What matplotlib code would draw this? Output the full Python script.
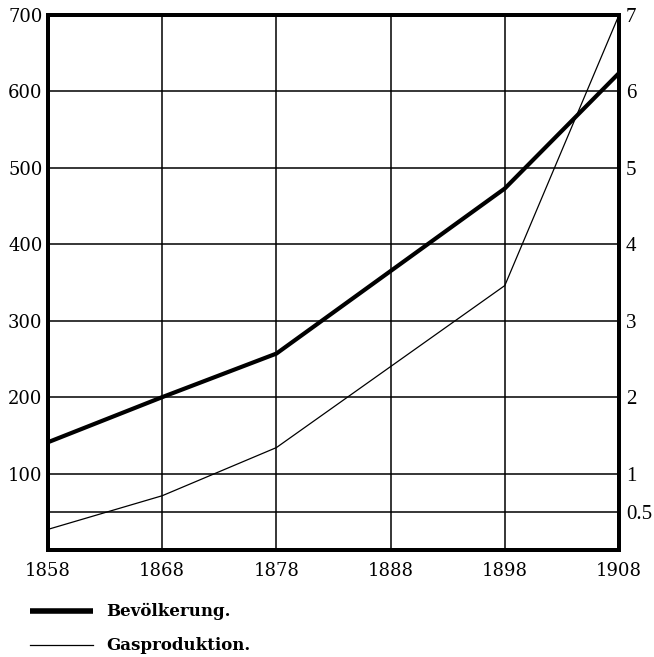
import matplotlib
matplotlib.use("Agg")
import matplotlib.pyplot as plt
from matplotlib.lines import Line2D

years = [1858, 1868, 1878, 1888, 1898, 1908]
bevoelkerung = [141, 200, 257, 365, 473, 624]
gasproduktion = [0.27, 0.71, 1.34, 2.40, 3.46, 7.0]
left_ticks = [100, 200, 300, 400, 500, 600, 700]
right_ticks = [0.5, 1, 2, 3, 4, 5, 6, 7]
right_labels = ["0.5", "1", "2", "3", "4", "5", "6", "7"]
labels = ["Bevölkerung.", "Gasproduktion."]

fig = plt.figure(figsize=(6.54, 6.57), dpi=100)
ax = fig.add_axes([48/654, 1-550/657, (619-48)/654, (550-15)/657])
ax.set_xlim(1858, 1908)
ax.set_ylim(0, 700)

# grid
for v in [50, 100, 200, 300, 400, 500, 600]:
    ax.axhline(v, color="black", lw=1.1, zorder=1)
for yv in years[1:-1]:
    ax.axvline(yv, color="black", lw=1.1, zorder=1)

l1, = ax.plot(years, bevoelkerung, color="black", lw=3.0, zorder=3, solid_capstyle="butt")
ax2 = ax.twinx()
ax2.set_ylim(0, 7)
l2, = ax2.plot(years, gasproduktion, color="black", lw=0.9, zorder=3)

ax.set_xticks(years)
ax.set_xticklabels([str(y) for y in years], fontsize=13, family="DejaVu Serif")
ax.set_yticks(left_ticks)
ax.set_yticklabels([str(v) for v in left_ticks], fontsize=13, family="DejaVu Serif")
ax.tick_params(axis="x", length=0, pad=9)
ax.tick_params(axis="y", length=0, pad=4)
ax2.set_yticks(right_ticks)
ax2.set_yticklabels(right_labels, fontsize=15, family="Liberation Serif")
ax2.tick_params(axis="y", length=0, pad=5)

for a in (ax, ax2):
    for s in a.spines.values():
        s.set_linewidth(2.8)
        s.set_color("black")

# legend
fig.add_artist(Line2D([30/654, 93/654], [1-611/657, 1-611/657], color="black", lw=4.0, solid_capstyle="butt"))
fig.add_artist(Line2D([30/654, 93/654], [1-645/657, 1-645/657], color="black", lw=0.9))
fig.text(106/654, 1-611/657, labels[0], fontsize=12, family="DejaVu Serif", fontweight="bold", va="center", ha="left")
fig.text(106/654, 1-645/657, labels[1], fontsize=12, family="DejaVu Serif", fontweight="bold", va="center", ha="left")

fig.savefig("out.png", dpi=100)
